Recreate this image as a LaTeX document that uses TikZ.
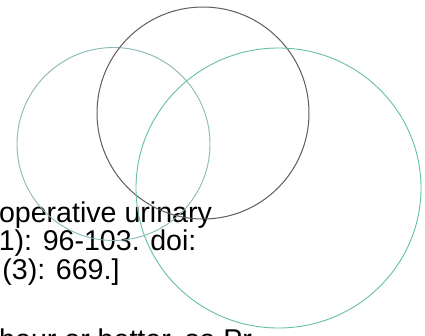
\documentclass[tikz,border=0pt]{standalone}
\usepackage{fontspec}
\setmainfont{Liberation Sans}
\definecolor{ringA}{HTML}{8DB6B8}
\definecolor{ringB}{HTML}{625E57}
\definecolor{ringC}{HTML}{66BFA6}
\tikzset{
  txt/.style={anchor=base west, inner sep=0pt, font=\fontsize{28.6}{28.6}\selectfont, text=black},
  ring/.style={line width=0.9pt}
}
\begin{document}
\begin{tikzpicture}[x=1pt,y=-1pt]
\useasboundingbox[fill=white] (0,0) rectangle (425,335);
\begin{scope}
\clip (0,0) rectangle (425,335);
\node[txt] (l1) at (-1.2,222) {operative urinary};
\node[txt] (l2) at (-1.4,250.5) {1): 96-103. doi:};
\node[txt] (l3) at (2.2,279) {(3): 669.]};
\node[txt] (l4) at (-1.0,349) {hour or better, so Pr};
\draw[ring, ringA] (113.5,144) circle [radius=96.5];
\draw[ring, ringB, line width=1pt] (203,113) circle [radius=106];
\draw[ring, ringC] (278.5,188) ellipse [x radius=142.5, y radius=140];
\end{scope}
\end{tikzpicture}
\end{document}
